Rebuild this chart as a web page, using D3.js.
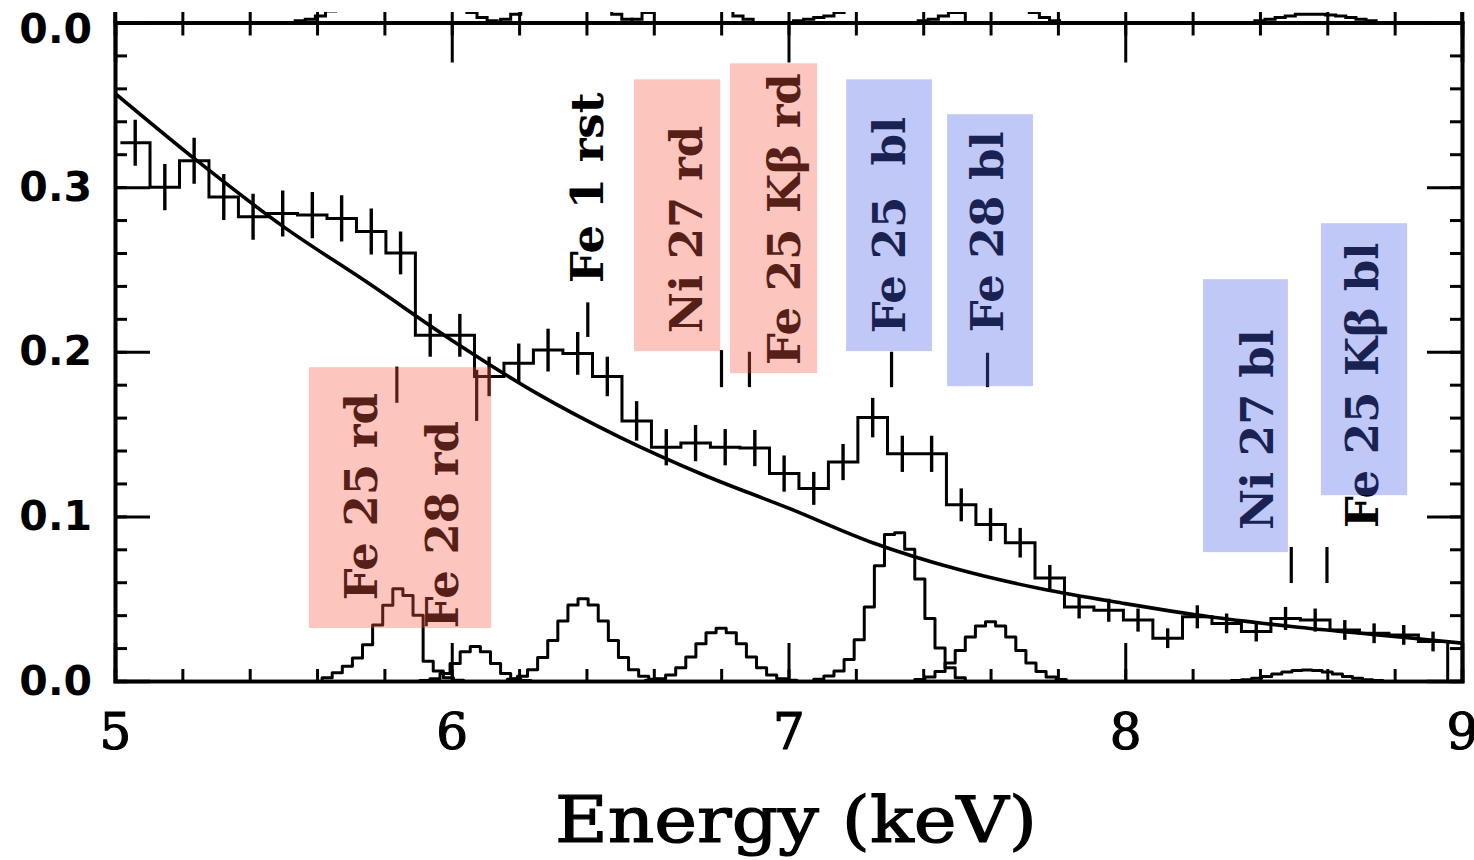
<!DOCTYPE html>
<html>
<head>
<meta charset="utf-8">
<script src="https://cdn.jsdelivr.net/npm/d3@7"></script>
<style>
  html, body { margin: 0; padding: 0; background: #fff; }
  svg { display: block; }
</style>
</head>
<body>
<script>
// ---- data ----

// observed spectrum: bin centres (keV), values and 1-sigma errors
var binCentres = [5.060, 5.148, 5.235, 5.323, 5.410, 5.498, 5.586, 5.673, 5.761, 5.848,
                  5.936, 6.024, 6.111, 6.199, 6.286, 6.374, 6.462, 6.549, 6.637, 6.724,
                  6.812, 6.900, 6.987, 7.075, 7.162, 7.250, 7.338, 7.425, 7.513, 7.600,
                  7.688, 7.776, 7.863, 7.951, 8.038, 8.126, 8.214, 8.301, 8.389, 8.476,
                  8.564, 8.652, 8.739, 8.827, 8.914];
var counts = [0.327, 0.300, 0.316, 0.294, 0.282, 0.284, 0.283, 0.281, 0.273, 0.260,
              0.210, 0.210, 0.185, 0.193, 0.201, 0.199, 0.185, 0.158, 0.142, 0.1445,
              0.142, 0.1415, 0.126, 0.117, 0.133, 0.160, 0.138, 0.138, 0.107, 0.095,
              0.084, 0.0625, 0.045, 0.043, 0.037, 0.026, 0.039, 0.035, 0.030, 0.038,
              0.037, 0.031, 0.029, 0.028, 0.024];
var countErr = [0.014, 0.014, 0.014, 0.014, 0.014, 0.014, 0.014, 0.014, 0.014, 0.013,
                0.013, 0.013, 0.012, 0.012, 0.013, 0.013, 0.012, 0.012, 0.011, 0.011,
                0.011, 0.011, 0.011, 0.010, 0.011, 0.012, 0.011, 0.011, 0.010, 0.010,
                0.009, 0.008, 0.007, 0.007, 0.007, 0.006, 0.007, 0.006, 0.006, 0.007,
                0.007, 0.006, 0.006, 0.006, 0.006];

// smooth continuum model
var contEnergy = [5.0, 5.25, 5.5, 5.75, 6.0, 6.25, 6.5, 6.75, 7.0, 7.25, 7.5, 7.75, 8.0, 8.25, 8.5, 8.75, 9.0];
var contValue  = [0.357, 0.315, 0.276, 0.242, 0.207, 0.175, 0.148, 0.125, 0.105, 0.084, 0.068, 0.056, 0.047, 0.039, 0.033, 0.028, 0.023];

// line profiles (each its own histogram, 0.03 keV bins)
var lineBinWidth = 0.03;
var lineFirstCentre = [5.63, 5.92, 6.18, 6.59, 7.09, 7.39, 8.33];
var lineValues = [
  [0.002, 0.005, 0.009, 0.014, 0.022, 0.034, 0.046, 0.056, 0.052, 0.040, 0.012, 0.006, 0.002, 0.0005],
  [0.0003, 0.0013, 0.0045, 0.0106, 0.0177, 0.021, 0.0177, 0.0106, 0.0045, 0.0013, 0.0003],
  [0.001, 0.0029, 0.0069, 0.0142, 0.0246, 0.0365, 0.0462, 0.050, 0.0462, 0.0365, 0.0246, 0.0142, 0.0069, 0.0029, 0.001],
  [0.0005, 0.0014, 0.0036, 0.0080, 0.0146, 0.0226, 0.0293, 0.032, 0.0293, 0.0226, 0.0146, 0.0080, 0.0036, 0.0014, 0.0005],
  [0.001, 0.003, 0.006, 0.013, 0.025, 0.045, 0.070, 0.089, 0.090, 0.080, 0.062, 0.038, 0.020, 0.008, 0.002],
  [0.0009, 0.0025, 0.0057, 0.011, 0.0185, 0.0268, 0.0334, 0.036, 0.0334, 0.0268, 0.0185, 0.011, 0.0057, 0.0025, 0.0009],
  [0.0003, 0.0008, 0.0016, 0.0028, 0.0042, 0.0055, 0.0064, 0.0067, 0.0064, 0.0055, 0.0042, 0.0028, 0.0016, 0.0008, 0.0003]
];

// tails of the panel above that reach down into this strip
var upperFirstCentre = [5.55, 6.16, 6.55, 7.03, 7.40, 8.40];
var upperValues = [
  [0.001, 0.002, 0.004, 0.007, 0.012, 0.02, 0.04, 0.06, 0.08, 0.1, 0.1, 0.08, 0.06, 0.04, 0.025, 0.015, 0.009, 0.006, 0.003, 0.001],
  [0.002, 0.005, 0.012, 0.03, 0.06, 0.09, 0.1, 0.09, 0.06, 0.03, 0.012, 0.005, 0.002],
  [0.002, 0.006, 0.015, 0.035, 0.06, 0.07, 0.06, 0.035, 0.015, 0.008, 0.004, 0.002],
  [0.001, 0.002, 0.003, 0.004, 0.006, 0.01, 0.02, 0.04, 0.07, 0.1, 0.12, 0.1, 0.07, 0.04, 0.02, 0.01, 0.006],
  [0.001, 0.002, 0.004, 0.006, 0.01, 0.02, 0.035, 0.05, 0.035, 0.02, 0.01, 0.006, 0.003, 0.001],
  [0.001, 0.002, 0.003, 0.004, 0.005, 0.005, 0.005, 0.0045, 0.004, 0.003, 0.002, 0.001]
];

// line identifications
var labelText   = ["Fe 25 rd", "Fe 28 rd", "Fe 1 rst", "Ni 27 rd", "Fe 25 K\u03b2 rd",
                   "Fe 25  bl", "Fe 28 bl", "Ni 27 bl", "Fe 25 K\u03b2 bl"];
var labelEnergy = [5.837, 6.074, 6.404, 6.801, 6.884, 7.306, 7.591, 8.493, 8.599];

// axis ticks
var xMajor = [5, 6, 7, 8, 9];
var xMinor = d3.range(5, 9.001, 0.2);
var yMajor = [0, 0.1, 0.2, 0.3];
var yMinor = d3.range(0, 0.4001, 0.02);

// ---- layout ----
var width = 1474, height = 860;
var padL = 115, padR = 1462, padT = 22.5, padB = 681, stripTop = 12;

var x = d3.scaleLinear().domain([5, 9]).range([padL, padR]);
var y = d3.scaleLinear().domain([0, 0.4]).range([padB, padT]);
var yUp = d3.scaleLinear().domain([0, 0.4]).range([padT, padT - (padB - padT)]);

// text anchor (baseline x in keV, start y in data units) and marker span for each label
var labelLayout = [
  {tx: 5.778, ty: 0.049, m0: 0.169, m1: 0.191},
  {tx: 6.019, ty: 0.032, m0: 0.158, m1: 0.189},
  {tx: 6.449, ty: 0.2417, m0: 0.209, m1: 0.230},
  {tx: 6.743, ty: 0.2113, m0: 0.1785, m1: 0.201},
  {tx: 7.034, ty: 0.1919, m0: 0.1785, m1: 0.200},
  {tx: 7.346, ty: 0.2113, m0: 0.1785, m1: 0.200},
  {tx: 7.637, ty: 0.2119, m0: 0.1785, m1: 0.1994},
  {tx: 8.439, ty: 0.0917, m0: 0.0595, m1: 0.0814},
  {tx: 8.751, ty: 0.0929, m0: 0.0595, m1: 0.0814}
];
var boxes = [
  {e0: 5.576, e1: 6.117, v0: 0.0322, v1: 0.1906, kind: "rd"},
  {e0: 6.541, e1: 6.797, v0: 0.2004, v1: 0.3655, kind: "rd"},
  {e0: 6.826, e1: 7.085, v0: 0.187, v1: 0.3752, kind: "rd"},
  {e0: 7.171, e1: 7.426, v0: 0.2004, v1: 0.3655, kind: "bl"},
  {e0: 7.471, e1: 7.726, v0: 0.1791, v1: 0.3443, kind: "bl"},
  {e0: 8.231, e1: 8.483, v0: 0.0783, v1: 0.2441, kind: "bl"},
  {e0: 8.581, e1: 8.837, v0: 0.1129, v1: 0.2781, kind: "bl"}
];
var boxColour = {rd: "rgb(246,92,72)", bl: "rgb(75,98,236)"};

var svg = d3.select("body").append("svg")
    .attr("width", width)
    .attr("height", height);

var defs = svg.append("defs");
defs.append("clipPath").attr("id", "plot")
  .append("rect")
    .attr("x", padL).attr("y", padT)
    .attr("width", padR - padL).attr("height", padB - padT);
defs.append("clipPath").attr("id", "strip")
  .append("rect")
    .attr("x", padL).attr("y", stripTop)
    .attr("width", padR - padL).attr("height", padT - stripTop);

var plot = svg.append("g").attr("clip-path", "url(#plot)");
var strip = svg.append("g").attr("clip-path", "url(#strip)");

function stepLine(yScale) {
    return d3.line()
        .x(function(d) { return x(d[0]); })
        .y(function(d) { return yScale(d[1]); })
        .curve(d3.curveStepAfter);
}

function profilePoints(first, vals) {
    var e0 = first - lineBinWidth / 2;
    var pts = [[e0, 0]];
    vals.forEach(function(v, k) { pts.push([e0 + k * lineBinWidth, v]); });
    pts.push([e0 + vals.length * lineBinWidth, 0]);
    return pts;
}

// line profiles
lineValues.forEach(function(vals, i) {
    plot.append("path")
        .attr("d", stepLine(y)(profilePoints(lineFirstCentre[i], vals)))
        .attr("fill", "none")
        .attr("stroke", "#000")
        .attr("stroke-width", 3)
        .attr("stroke-linejoin", "round");
});

upperValues.forEach(function(vals, i) {
    strip.append("path")
        .attr("d", stepLine(yUp)(profilePoints(upperFirstCentre[i], vals)))
        .attr("fill", "none")
        .attr("stroke", "#000")
        .attr("stroke-width", 3);
});

// continuum
var contLine = d3.line()
    .x(function(d, i) { return x(contEnergy[i]); })
    .y(function(d) { return y(d); })
    .curve(d3.curveMonotoneX);

plot.append("path")
    .attr("d", contLine(contValue))
    .attr("fill", "none")
    .attr("stroke", "#000")
    .attr("stroke-width", 3.6);

// observed histogram
var n = binCentres.length;
var edges = binCentres.map(function(c, i) {
    if (i === 0) return c - (binCentres[1] - binCentres[0]) / 2;
    return (c + binCentres[i - 1]) / 2;
});
var lastEdge = binCentres[n - 1] + (binCentres[n - 1] - binCentres[n - 2]) / 2;
var histPts = edges.map(function(e, i) { return [e, counts[i]]; });
histPts.push([lastEdge, counts[n - 1]]);
histPts.push([lastEdge, 0]);

plot.append("path")
    .attr("d", stepLine(y)(histPts))
    .attr("fill", "none")
    .attr("stroke", "#000")
    .attr("stroke-width", 3);

plot.append("g").selectAll("line")
    .data(counts)
    .enter().append("line")
    .attr("x1", function(d, i) { return x(binCentres[i]); })
    .attr("x2", function(d, i) { return x(binCentres[i]); })
    .attr("y1", function(d, i) { return y(d - countErr[i]); })
    .attr("y2", function(d, i) { return y(d + countErr[i]); })
    .attr("stroke", "#000")
    .attr("stroke-width", 3.4);

// labels and markers
var labels = svg.append("g");
labelText.forEach(function(t, i) {
    var L = labelLayout[i];
    labels.append("line")
        .attr("x1", x(labelEnergy[i])).attr("x2", x(labelEnergy[i]))
        .attr("y1", y(L.m0)).attr("y2", y(L.m1))
        .attr("stroke", "#000")
        .attr("stroke-width", 3.2);
    labels.append("text")
        .attr("transform", "translate(" + x(L.tx) + "," + y(L.ty) + ") rotate(-90)")
        .attr("font-family", "DejaVu Serif")
        .attr("font-weight", "bold")
        .attr("font-size", 45)
        .style("white-space", "pre")
        .text(t);
});

// translucent highlight boxes
svg.append("g").selectAll("rect")
    .data(boxes)
    .enter().append("rect")
    .attr("x", function(d) { return x(d.e0); })
    .attr("y", function(d) { return y(d.v1); })
    .attr("width", function(d) { return x(d.e1) - x(d.e0); })
    .attr("height", function(d) { return y(d.v0) - y(d.v1); })
    .attr("fill", function(d) { return boxColour[d.kind]; })
    .attr("fill-opacity", 0.35);

// ---- axes ----
var axes = svg.append("g");

function styleAxis(g) {
    g.selectAll("line").attr("stroke", "#000").attr("stroke-width", 3);
    g.selectAll("path").attr("stroke", "#000").attr("stroke-width", 3.6);
}

// bottom
axes.append("g").attr("transform", "translate(0," + padB + ")")
    .call(d3.axisBottom(x).tickValues(xMinor).tickSize(-12).tickFormat(""))
    .call(styleAxis);
axes.append("g").attr("transform", "translate(0," + padB + ")")
    .call(d3.axisBottom(x).tickValues(xMajor).tickSize(-38).tickPadding(32).tickFormat(d3.format("d")))
    .call(styleAxis)
    .call(function(g) {
        g.selectAll("text")
            .attr("font-family", "DejaVu Serif")
            .attr("font-size", 50)
            .attr("fill", "#000")
            .attr("stroke", "#000")
            .attr("stroke-width", 1.2);
    });

// top (shared with the panel above)
axes.append("g").attr("transform", "translate(0," + padT + ")")
    .call(d3.axisTop(x).tickValues(xMinor).tickSize(-13).tickFormat(""))
    .call(styleAxis);
axes.append("g").attr("transform", "translate(0," + padT + ")")
    .call(d3.axisTop(x).tickValues(xMinor).tickSize(padT - stripTop).tickFormat(""))
    .call(styleAxis);
axes.append("g").attr("transform", "translate(0," + padT + ")")
    .call(d3.axisTop(x).tickValues(xMajor).tickSize(-40).tickFormat(""))
    .call(styleAxis);

// left
axes.append("g").attr("transform", "translate(" + padL + ",0)")
    .call(d3.axisLeft(y).tickValues(yMinor).tickSize(-12).tickFormat(""))
    .call(styleAxis);
axes.append("g").attr("transform", "translate(" + padL + ",0)")
    .call(d3.axisLeft(y).tickValues(yMajor).tickSize(-35).tickPadding(23).tickFormat(d3.format(".1f")))
    .call(styleAxis)
    .call(function(g) {
        g.selectAll("text")
            .attr("font-family", "DejaVu Sans")
            .attr("font-weight", "bold")
            .attr("font-size", 41)
            .attr("fill", "#000");
    });

// right
axes.append("g").attr("transform", "translate(" + padR + ",0)")
    .call(d3.axisRight(y).tickValues(yMinor).tickSize(-12).tickFormat(""))
    .call(styleAxis);
axes.append("g").attr("transform", "translate(" + padR + ",0)")
    .call(d3.axisRight(y).tickValues(yMajor).tickSize(-35).tickFormat(""))
    .call(styleAxis);

// frame edges continuing into the panel above
[padL, padR].forEach(function(px) {
    axes.append("line")
        .attr("x1", px).attr("x2", px)
        .attr("y1", stripTop).attr("y2", padT)
        .attr("stroke", "#000").attr("stroke-width", 3.6);
});

// upper panel's zero label
axes.append("text")
    .attr("x", padL - 23)
    .attr("y", 29)
    .attr("dy", "0.35em")
    .attr("text-anchor", "end")
    .attr("font-family", "DejaVu Sans")
    .attr("font-weight", "bold")
    .attr("font-size", 41)
    .text("0.0");

// axis title
svg.append("text")
    .attr("x", 796)
    .attr("y", 842)
    .attr("text-anchor", "middle")
    .attr("font-family", "DejaVu Serif")
    .attr("font-size", 64)
    .attr("stroke", "#000")
    .attr("stroke-width", 1.2)
    .attr("textLength", 482)
    .attr("lengthAdjust", "spacingAndGlyphs")
    .text("Energy (keV)");
</script>
</body>
</html>
